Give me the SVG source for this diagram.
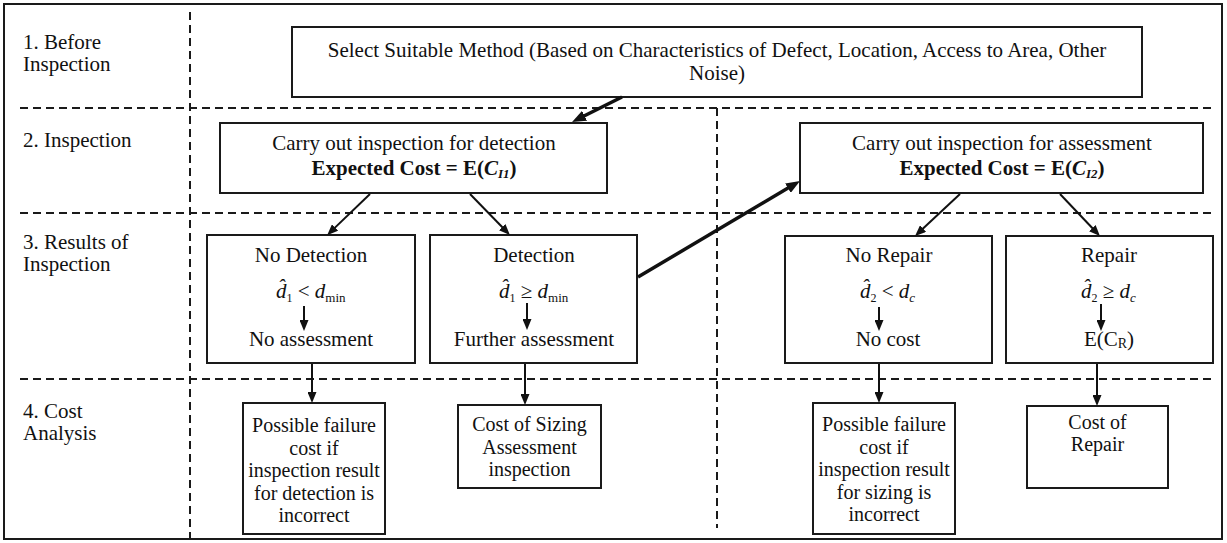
<svg xmlns="http://www.w3.org/2000/svg" width="1227" height="543" viewBox="0 0 1227 543">
<style>
.t{font-family:"Liberation Serif","Times New Roman",serif;font-size:21px;fill:#111}
.s{font-size:20px}
.m{text-anchor:middle}
.b{font-weight:bold}
.i{font-style:italic}
.box{fill:#fff;stroke:#1a1a1a;stroke-width:2}
.dash{stroke:#1a1a1a;stroke-width:2;stroke-dasharray:8 5;fill:none}
.ln{stroke:#111;stroke-width:2;fill:none}
.thk{stroke:#111;stroke-width:3.5;fill:none}
</style>
<defs>
<marker id="ah" viewBox="0 0 11 9" refX="3" refY="4.5" markerWidth="11" markerHeight="9" orient="auto" markerUnits="userSpaceOnUse"><path d="M0,0 L11,4.5 L0,9 z" fill="#111"/></marker>
<marker id="ahT" viewBox="0 0 14 11" refX="4" refY="5.5" markerWidth="14" markerHeight="11" orient="auto" markerUnits="userSpaceOnUse"><path d="M0,0 L14,5.5 L0,11 z" fill="#111"/></marker>
</defs>
<rect x="0" y="0" width="1227" height="543" fill="#fff"/>
<rect x="4" y="4" width="1218" height="535" fill="none" stroke="#1a1a1a" stroke-width="2"/>
<g id="grid">
<line class="dash" x1="190" y1="12" x2="190" y2="538"/>
<line class="dash" x1="717" y1="108" x2="717" y2="528"/>
<line class="dash" x1="20" y1="108" x2="1215" y2="108"/>
<line class="dash" x1="20" y1="213" x2="1215" y2="213"/>
<line class="dash" x1="20" y1="379" x2="1215" y2="379"/>
</g>
<g id="labels" class="t">
<text x="23" y="49">1. Before</text>
<text x="23" y="71">Inspection</text>
<text x="23" y="147">2. Inspection</text>
<text x="23" y="249">3. Results of</text>
<text x="23" y="271">Inspection</text>
<text x="23" y="418">4. Cost</text>
<text x="23" y="440">Analysis</text>
</g>
<g id="select">
<rect class="box" x="292" y="27" width="850" height="70"/>
<text class="t m" x="717" y="57">Select Suitable Method (Based on Characteristics of Defect, Location, Access to Area, Other</text>
<text class="t m" x="717" y="80">Noise)</text>
</g>
<g id="inspDetect">
<rect class="box" x="220" y="123" width="387" height="70"/>
<text class="t m" x="414" y="150">Carry out inspection for detection</text>
<text class="t m b" x="414" y="175">Expected Cost = E(<tspan class="i">C</tspan><tspan class="i" font-size="13" dy="3">I1</tspan><tspan dy="-3">)</tspan></text>
</g>
<g id="inspAssess">
<rect class="box" x="800" y="123" width="403" height="70"/>
<text class="t m" x="1002" y="150">Carry out inspection for assessment</text>
<text class="t m b" x="1002" y="175">Expected Cost = E(<tspan class="i">C</tspan><tspan class="i" font-size="13" dy="3">I2</tspan><tspan dy="-3">)</tspan></text>
</g>
<g id="noDetection">
<rect class="box" x="207" y="235" width="208" height="128"/>
<text class="t m" x="311" y="262">No Detection</text>
<text class="t" x="276" y="298"><tspan class="i">d̂</tspan><tspan font-size="12" dy="4">1</tspan><tspan dy="-4"> &lt; </tspan><tspan class="i">d</tspan><tspan font-size="13" dy="4">min</tspan></text>
<text class="t m" x="311" y="346">No assessment</text>
</g>
<g id="detection">
<rect class="box" x="430" y="235" width="207" height="128"/>
<text class="t m" x="534" y="262">Detection</text>
<text class="t" x="499" y="298"><tspan class="i">d̂</tspan><tspan font-size="12" dy="4">1</tspan><tspan dy="-4"> ≥ </tspan><tspan class="i">d</tspan><tspan font-size="13" dy="4">min</tspan></text>
<text class="t m" x="534" y="346">Further assessment</text>
</g>
<g id="noRepair">
<rect class="box" x="785" y="236" width="207" height="127"/>
<text class="t m" x="889" y="262">No Repair</text>
<text class="t" x="860" y="298"><tspan class="i">d̂</tspan><tspan font-size="12" dy="4">2</tspan><tspan dy="-4"> &lt; </tspan><tspan class="i">d</tspan><tspan class="i" font-size="13" dy="4">c</tspan></text>
<text class="t m" x="888" y="346">No cost</text>
</g>
<g id="repair">
<rect class="box" x="1006" y="236" width="207" height="127"/>
<text class="t m" x="1109" y="262">Repair</text>
<text class="t" x="1081" y="298"><tspan class="i">d̂</tspan><tspan font-size="12" dy="4">2</tspan><tspan dy="-4"> ≥ </tspan><tspan class="i">d</tspan><tspan class="i" font-size="13" dy="4">c</tspan></text>
<text class="t m" x="1109" y="346">E(C<tspan font-size="14" dy="2">R</tspan><tspan dy="-2">)</tspan></text>
</g>
<g id="failDetect">
<rect class="box" x="243" y="403" width="142" height="131"/>
<text class="t s m" x="314" y="432">Possible failure</text>
<text class="t s m" x="314" y="454.5">cost if</text>
<text class="t s m" x="314" y="477">inspection result</text>
<text class="t s m" x="314" y="499.5">for detection is</text>
<text class="t s m" x="314" y="522">incorrect</text>
</g>
<g id="costSizing">
<rect class="box" x="458" y="405" width="143" height="83"/>
<text class="t s m" x="529.5" y="431">Cost of Sizing</text>
<text class="t s m" x="529.5" y="453.5">Assessment</text>
<text class="t s m" x="529.5" y="476">inspection</text>
</g>
<g id="failSizing">
<rect class="box" x="813" y="403" width="142" height="131"/>
<text class="t s m" x="884" y="431">Possible failure</text>
<text class="t s m" x="884" y="453.5">cost if</text>
<text class="t s m" x="884" y="476">inspection result</text>
<text class="t s m" x="884" y="498.5">for sizing is</text>
<text class="t s m" x="884" y="521">incorrect</text>
</g>
<g id="costRepair">
<rect class="box" x="1027" y="406" width="141" height="82"/>
<text class="t s m" x="1097.5" y="429">Cost of</text>
<text class="t s m" x="1097.5" y="451">Repair</text>
</g>
<g id="connectors">
<line class="thk" x1="622" y1="97" x2="581" y2="117.5" marker-end="url(#ahT)"/>
<line class="thk" x1="638" y1="277" x2="791.4" y2="186.1" marker-end="url(#ahT)"/>
<line class="ln" x1="370" y1="194" x2="332.9" y2="229.6" marker-end="url(#ah)"/>
<line class="ln" x1="470" y1="194" x2="504.3" y2="229.3" marker-end="url(#ah)"/>
<line class="ln" x1="960" y1="194" x2="920.9" y2="230.6" marker-end="url(#ah)"/>
<line class="ln" x1="1060" y1="194" x2="1094.4" y2="230.3" marker-end="url(#ah)"/>
<line class="ln" x1="304" y1="306" x2="304" y2="323" marker-end="url(#ah)"/>
<line class="ln" x1="527" y1="303" x2="527" y2="322" marker-end="url(#ah)"/>
<line class="ln" x1="879" y1="307" x2="879" y2="323" marker-end="url(#ah)"/>
<line class="ln" x1="1101" y1="304" x2="1101" y2="323" marker-end="url(#ah)"/>
<line class="ln" x1="312" y1="364" x2="312" y2="395" marker-end="url(#ah)"/>
<line class="ln" x1="525" y1="364" x2="525" y2="397" marker-end="url(#ah)"/>
<line class="ln" x1="879" y1="364" x2="879" y2="395" marker-end="url(#ah)"/>
<line class="ln" x1="1097" y1="364" x2="1097" y2="398" marker-end="url(#ah)"/>
</g>
</svg>
